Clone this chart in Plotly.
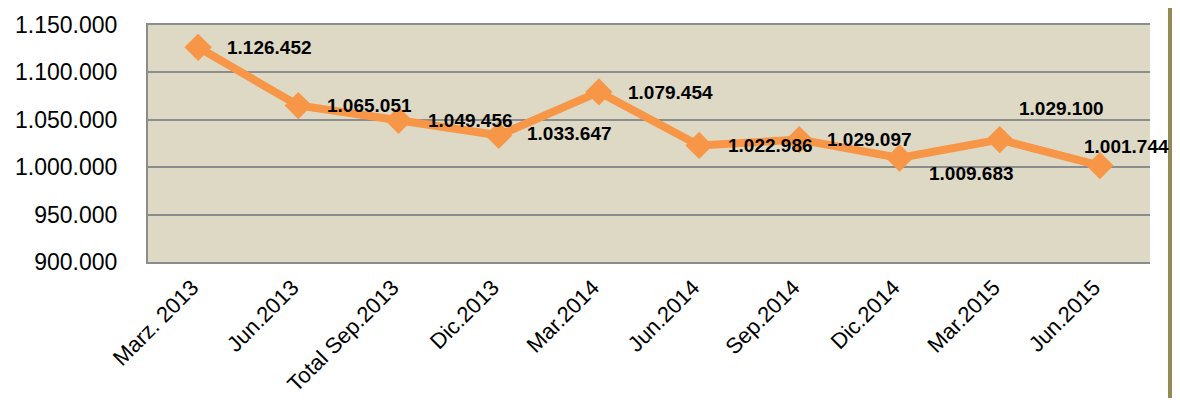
import plotly.graph_objects as go

# periods and values
periods = ['Marz. 2013', 'Jun.2013', 'Total Sep.2013', 'Dic.2013', 'Mar.2014',
           'Jun.2014', 'Sep.2014', 'Dic.2014', 'Mar.2015', 'Jun.2015']
values = [1126452, 1065051, 1049456, 1033647, 1079454,
          1022986, 1029097, 1009683, 1029100, 1001744]
label_texts = ['1.126.452', '1.065.051', '1.049.456', '1.033.647', '1.079.454',
               '1.022.986', '1.029.097', '1.009.683', '1.029.100', '1.001.744']
y_ticks = [900000, 950000, 1000000, 1050000, 1100000, 1150000]

# pixel offsets of each data label from its marker (left edge, down is positive)
label_offsets = [(27, 0), (27, 0), (27, 0), (26, -2), (27, 1),
                 (27, 0), (26, 0), (27, 15), (17, -31), (-18, -19)]

ORANGE = '#F79646'
FONT = 'Liberation Sans'

# the page body adds an 8px margin all round, so the figure is made smaller
W, H = 1172, 390
ML, MR, MT = 140, 30, 17
PH = 237
MB = H - MT - PH
PW = W - ML - MR

fig = go.Figure()
fig.add_trace(go.Scatter(
    x=periods, y=values,
    mode='lines+markers',
    line=dict(color=ORANGE, width=8),
    marker=dict(symbol='diamond', size=21, color=ORANGE),
    cliponaxis=False,
    hoverinfo='skip'
))

for p, v, t, (dx, dy) in zip(periods, values, label_texts, label_offsets):
    fig.add_annotation(x=p, y=v, text=f'<b>{t}</b>', showarrow=False,
                       xanchor='left', yanchor='middle',
                       xshift=dx, yshift=-dy,
                       font=dict(family=FONT, size=19, color='black'))

# olive bar on the right edge (visible area ends about 22px right of the plot)
fig.add_shape(type='rect', xref='paper', yref='paper',
              x0=(PW + 18) / PW, x1=(PW + MR) / PW,
              y0=-MB / PH, y1=1 + MT / PH,
              fillcolor='#948A54', line=dict(width=0), layer='above')

fig.update_xaxes(
    type='category',
    range=[-0.5, len(periods) - 0.5],
    tickangle=-45,
    showgrid=False,
    showline=True, linecolor='#8C8C8C', linewidth=2, mirror=True,
    ticks='', ticklabelstandoff=2, ticklabelshift=-6,
    automargin=False,
    tickfont=dict(family=FONT, size=22, color='black')
)
fig.update_yaxes(
    range=[900000, 1150000],
    tickvals=y_ticks,
    tickformat=',d',
    showgrid=True, gridcolor='#8C8C8C', gridwidth=2,
    showline=True, linecolor='#8C8C8C', linewidth=2,
    zeroline=False,
    ticks='', ticklabelstandoff=24,
    automargin=False,
    tickfont=dict(family=FONT, size=23, color='black')
)

fig.update_layout(
    width=W, height=H,
    margin=dict(l=ML, r=MR, t=MT, b=MB, autoexpand=False),
    paper_bgcolor='white',
    plot_bgcolor='#DDD9C4',
    separators=',.',
    showlegend=False,
    font=dict(family=FONT, color='black')
)

fig.write_html('out.html')
